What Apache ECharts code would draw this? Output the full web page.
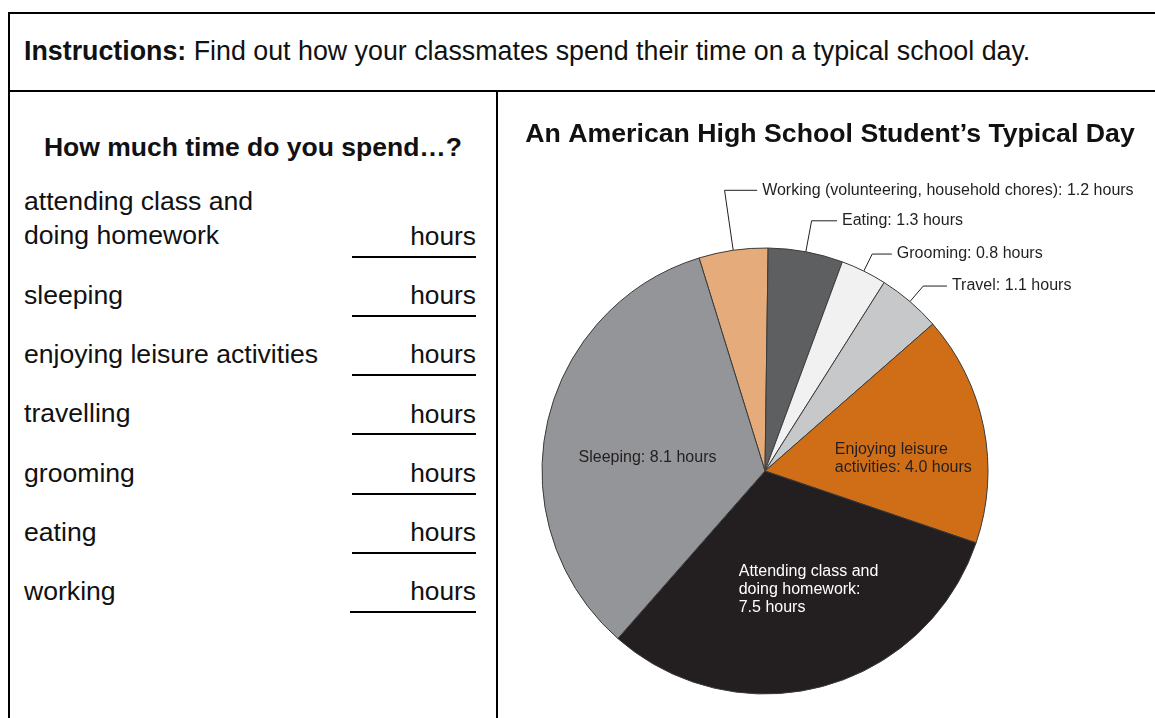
<!DOCTYPE html>
<html><head><meta charset="utf-8">
<script src="https://cdn.jsdelivr.net/npm/echarts@6/dist/echarts.min.js"></script>
<style>
html,body{margin:0;padding:0;width:1155px;height:718px;overflow:hidden;background:#fff;font-family:"Liberation Sans",Arial,sans-serif;color:#111;}
.t{position:absolute;white-space:nowrap;line-height:1;}
.rule{position:absolute;background:#000;}
#chart{position:absolute;left:505px;top:92px;width:650px;height:626px;}
</style></head><body>
<div id="sheet"></div>
<div id="chart"></div>
<script>
// ---- data ----
const categories = ['Working (volunteering, household chores)', 'Eating', 'Grooming', 'Travel', 'Enjoying leisure\nactivities', 'Attending class and\ndoing homework', 'Sleeping'];
const hours = [1.2, 1.3, 0.8, 1.1, 4.0, 7.5, 8.1];
const valueSeparators = [': ', ': ', ': ', ': ', ': ', ':\n', ': '];
const worksheetItems = ['attending class and\ndoing homework', 'sleeping', 'enjoying leisure activities', 'travelling', 'grooming', 'eating', 'working'];
const chartTitle = 'An American High School Student\u2019s Typical Day';
const worksheetHeading = 'How much time do you spend\u2026?';

// ---- styles ----
const sliceColors = ['#E6AB7A', '#5E5F61', '#F1F1F2', '#C7C8CA', '#D06E17', '#231F20', '#939598'];
const labelColors = ['#231f20', '#231f20', '#231f20', '#231f20', '#231f20', '#ffffff', '#231f20'];
const labelOutside = [true, true, true, true, false, false, false];
const leaderLen = [60.6, 31.5, 19, 20.4];
const leaderLen2 = [32.6, 25.4, 19.6, 23.7];
const insideNudge = { 4: [26, 9.4], 5: [14, 7.5], 6: [-5.5, 10.5] };

// ---- worksheet (HTML) ----
const sheet = document.getElementById('sheet');
function rule(l, t, w, h) { const d = document.createElement('div'); d.className = 'rule'; Object.assign(d.style, { left: l + 'px', top: t + 'px', width: w + 'px', height: h + 'px' }); sheet.appendChild(d); }
function text(html, x, baseline, fs, weight, align) {
  const d = document.createElement('div'); d.className = 't'; d.innerHTML = html;
  d.style.fontSize = fs + 'px'; d.style.fontWeight = weight || 'normal';
  d.style.top = (baseline - 0.8465 * fs) + 'px';
  if (align === 'center') { d.style.left = x + 'px'; d.style.transform = 'translateX(-50%)'; }
  else if (align === 'right') { d.style.right = (1155 - x) + 'px'; }
  else { d.style.left = x + 'px'; }
  sheet.appendChild(d);
}
rule(8, 12, 1200, 2); rule(8, 12, 2, 720); rule(8, 90, 1200, 2); rule(496, 90, 2, 640);
text('<b>Instructions:</b> Find out how your classmates spend their time on a typical school day.', 24, 61, 26.8);
text(worksheetHeading, 253, 156.5, 26.5, 'bold', 'center');
worksheetItems.forEach((item, k) => {
  const b = 245 + 59.27 * k;
  const lines = item.split('\n');
  lines.forEach((ln, j) => text(ln, 24, b - (lines.length - 1 - j) * 34.3, 26.6));
  text('hours', 476, b, 26.3, 'normal', 'right');
  rule(k === 6 ? 350 : 352, b + 10.6, k === 6 ? 126 : 124, 2);
});

// ---- chart ----
const chart = echarts.init(document.getElementById('chart'), null, { renderer: 'canvas' });
const data = categories.map((name, i) => ({
  name, value: hours[i],
  itemStyle: { color: sliceColors[i] },
  label: { position: labelOutside[i] ? 'outside' : 'inside', color: labelColors[i] },
  labelLine: labelOutside[i] ? { show: true, length: leaderLen[i], length2: leaderLen2[i] } : { show: false }
}));
chart.setOption({
  animation: false,
  title: {
    text: chartTitle, left: 'center', top: 24,
    textStyle: { fontFamily: 'Liberation Sans', fontSize: 26.7, fontWeight: 'bold', color: '#111' }
  },
  series: [{
    type: 'pie',
    center: [260, 379],
    radius: 223,
    startAngle: 107.2,
    clockwise: true,
    avoidLabelOverlap: false,
    emphasis: { disabled: true },
    itemStyle: { borderColor: '#3a3a3a', borderWidth: 1 },
    label: {
      fontFamily: 'Liberation Sans', fontSize: 16, lineHeight: 18,
      formatter: p => p.name + valueSeparators[p.dataIndex] + p.value.toFixed(1) + ' hours'
    },
    labelLine: { lineStyle: { color: '#231f20', width: 1 } },
    labelLayout: function (params) {
      const i = params.dataIndex;
      if (labelOutside[i]) {
        const pts = params.labelLinePoints;
        if (!pts) return {};
        const p0 = pts[0], p1 = pts[1];
        const p2 = [p1[0] + leaderLen2[i], p1[1]];
        return { x: p2[0] + 5, y: p1[1], align: 'left', verticalAlign: 'middle', labelLinePoints: [p0, p1, p2] };
      }
      const r = params.labelRect, n = insideNudge[i];
      return { x: r.x + n[0], y: r.y + r.height / 2 + n[1], align: 'left', verticalAlign: 'middle' };
    },
    data
  }]
});
</script>
</body></html>
